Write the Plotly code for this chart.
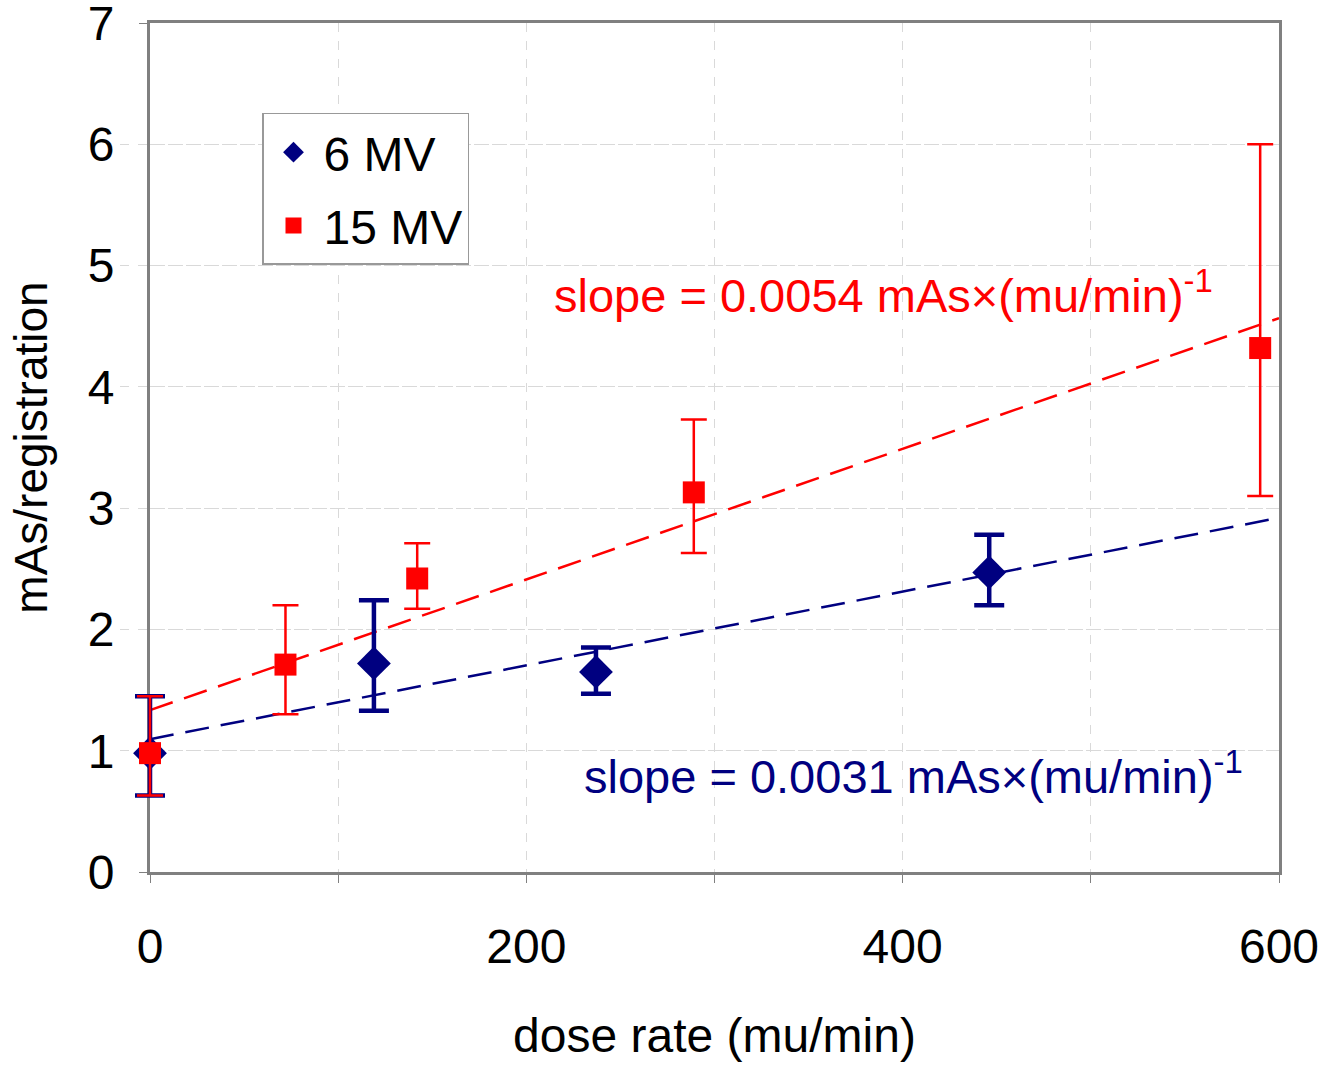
import numpy as np
import plotly.graph_objects as go

# 6 MV data
x6 = [0, 119, 237, 446]
y6 = [0.98, 1.72, 1.65, 2.47]
e6_plus = [0.47, 0.52, 0.20, 0.31]
e6_minus = [0.35, 0.39, 0.18, 0.27]

# 15 MV data
x15 = [0, 72, 142, 289, 590]
y15 = [0.98, 1.71, 2.42, 3.13, 4.32]
e15_plus = [0.47, 0.49, 0.29, 0.60, 1.68]
e15_minus = [0.35, 0.41, 0.25, 0.50, 1.22]

x_range = [0, 600]
y_range = [0, 7]
xtick_vals = [0, 100, 200, 300, 400, 500, 600]
xtick_text = ["0", "", "200", "", "400", "", "600"]
ytick_vals = [0, 1, 2, 3, 4, 5, 6, 7]

NAVY = "#000080"
RED = "#FF0000"
FONT = "Liberation Sans, Arial, sans-serif"

# layout geometry (pixels)
W, H = 1340, 1065
ML, MR, MT, MB = 150, 61, 23, 193
PAD = 30  # extra unclipped room left of x=0 for error bars / markers
plot_w = W - ML - MR
span = x_range[1] - x_range[0]
x2_lo = x_range[0] - PAD * span / plot_w
dom0 = PAD / (plot_w + PAD)

# linear trendlines
s6, b6 = np.polyfit(x6, y6, 1)
s15, b15 = np.polyfit(x15, y15, 1)
xl = np.array(x_range, dtype=float)

fig = go.Figure()

# invisible anchor trace so the main axes subplot exists
fig.add_trace(go.Scatter(x=[x_range[1]], y=[y_range[0]], mode="markers",
                         marker=dict(opacity=0), showlegend=False,
                         hoverinfo="skip"))

fig.add_trace(go.Scatter(
    x=xl, y=s6 * xl + b6, mode="lines", xaxis="x2",
    line=dict(color=NAVY, width=2.5, dash="24px,12px"),
    showlegend=False, hoverinfo="skip"))
fig.add_trace(go.Scatter(
    x=xl, y=s15 * xl + b15, mode="lines", xaxis="x2",
    line=dict(color=RED, width=2.5, dash="24px,12px"),
    showlegend=False, hoverinfo="skip"))

fig.add_trace(go.Scatter(
    x=x6, y=y6, mode="markers", name="6 MV", xaxis="x2", legendgroup="a",
    marker=dict(symbol="diamond", size=26, color=NAVY),
    error_y=dict(type="data", array=e6_plus, arrayminus=e6_minus,
                 color=NAVY, thickness=4.5, width=15)))
fig.add_trace(go.Scatter(
    x=x15, y=y15, mode="markers", name="15 MV", xaxis="x2", legendgroup="b",
    marker=dict(symbol="square", size=22, color=RED),
    error_y=dict(type="data", array=e15_plus, arrayminus=e15_minus,
                 color=RED, thickness=2.5, width=13)))

fig.add_annotation(
    x=390, y=4.78, xref="x2", yref="y",
    text="slope = 0.0054 mAs×(mu/min)<sup>-1</sup>",
    showarrow=False, font=dict(family=FONT, size=47, color=RED))
fig.add_annotation(
    x=406, y=0.82, xref="x2", yref="y",
    text="slope = 0.0031 mAs×(mu/min)<sup>-1</sup>",
    showarrow=False, font=dict(family=FONT, size=47, color=NAVY))

fig.update_layout(
    width=W, height=H,
    margin=dict(l=ML - PAD, r=MR, t=MT, b=MB),
    paper_bgcolor="white", plot_bgcolor="rgba(0,0,0,0)",
    font=dict(family=FONT, size=48, color="black"),
    legend=dict(x=(262 - ML + PAD) / (plot_w + PAD), y=0.894,
                xanchor="left", yanchor="top",
                bgcolor="white", bordercolor="#999999", borderwidth=1.5,
                font=dict(family=FONT, size=48), itemsizing="trace",
                itemwidth=50, tracegroupgap=8),
    xaxis=dict(domain=[dom0, 1], range=x_range, automargin=False,
               tickvals=xtick_vals, ticktext=xtick_text,
               showline=True, linecolor="#808080", linewidth=3, mirror=True,
               showgrid=True, gridcolor="#d9d9d9", griddash="dash", gridwidth=1,
               ticks="outside", ticklen=8, tickcolor="#808080",
               zeroline=False, tickfont=dict(size=48), ticklabelstandoff=22,
               ticklabeloverflow="allow",
               title=dict(text="dose rate (mu/min)", font=dict(size=48), standoff=47)),
    xaxis2=dict(domain=[0, 1], range=[x2_lo, x_range[1]], anchor="y",
                visible=False, showgrid=False, zeroline=False, automargin=False),
    yaxis=dict(range=y_range, tickvals=ytick_vals, automargin=False,
               showline=True, linecolor="#808080", linewidth=3, mirror=True,
               showgrid=True, gridcolor="#d9d9d9", griddash="dash", gridwidth=1,
               ticks="outside", ticklen=8, tickcolor="#808080",
               zeroline=False, tickfont=dict(size=48), ticklabelstandoff=15,
               ticklabeloverflow="allow",
               title=dict(text="mAs/registration", font=dict(size=46), standoff=26)),
)

fig.write_html("out.html")
